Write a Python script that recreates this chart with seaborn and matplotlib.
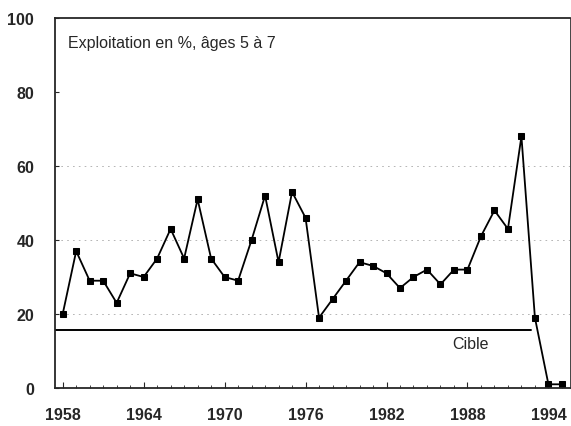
import matplotlib
matplotlib.use("Agg")
import matplotlib.pyplot as plt
import seaborn as sns
import pandas as pd

# Exploitation data
years = list(range(1958, 1996))
exploitation = [20, 37, 29, 29, 23, 31, 30, 35, 43, 35,
                51, 35, 30, 29, 40, 52, 34, 53, 46, 19,
                24, 29, 34, 33, 31, 27, 30, 32, 28, 32,
                32, 41, 48, 43, 68, 19, 1, 1]
cible_value = 15.7
cible_years = [1957.4, 1992.7]
x_ticks = [1958, 1964, 1970, 1976, 1982, 1988, 1994]
y_ticks = [0, 20, 40, 60, 80, 100]

df = pd.DataFrame({"annee": years, "exploitation": exploitation})

sns.set_style("ticks")
plt.rcParams['font.family'] = ['Liberation Sans', 'DejaVu Sans']

fig = plt.figure(figsize=(5.71, 4.27), dpi=100)
ax = fig.add_axes([55 / 571, 1 - 389 / 427, (570 - 55) / 571, (389 - 19) / 427])

# faint dotted grid like the scan
for yv in [20, 40, 60]:
    ax.axhline(yv, color="#aaaaaa", lw=0.6, ls=(0, (2, 5)), zorder=0)

ax.plot(cible_years, [cible_value, cible_value], color="black", lw=1.4)
sns.lineplot(data=df, x="annee", y="exploitation", ax=ax, color="black",
             lw=1.3, marker="s", markersize=5, markeredgecolor="black")

ax.set_xlim(1957.43, 1995.6)
ax.set_ylim(0, 100)
ax.set_xticks(x_ticks)
ax.set_xticks(years, minor=True)
ax.set_yticks(y_ticks)
ax.tick_params(axis="x", which="major", direction="in", length=4, pad=14,
               labelsize=11.5)
ax.tick_params(axis="x", which="minor", direction="in", length=2.5)
ax.tick_params(axis="y", direction="in", length=3, pad=15, labelsize=11.5)
for lab in ax.get_xticklabels() + ax.get_yticklabels():
    lab.set_fontweight("bold")
ax.set_xlabel("")
ax.set_ylabel("")
for s in ax.spines.values():
    s.set_linewidth(1.3)
ax.spines["right"].set_linewidth(0.6)

ax.text(0.025, 0.955, "Exploitation en %, âges 5 à 7", transform=ax.transAxes,
        fontsize=11.5, va="top", ha="left")
ax.text(1988.2, 14, "Cible", fontsize=11.5, va="top", ha="center")

fig.savefig("out.png", dpi=100)
